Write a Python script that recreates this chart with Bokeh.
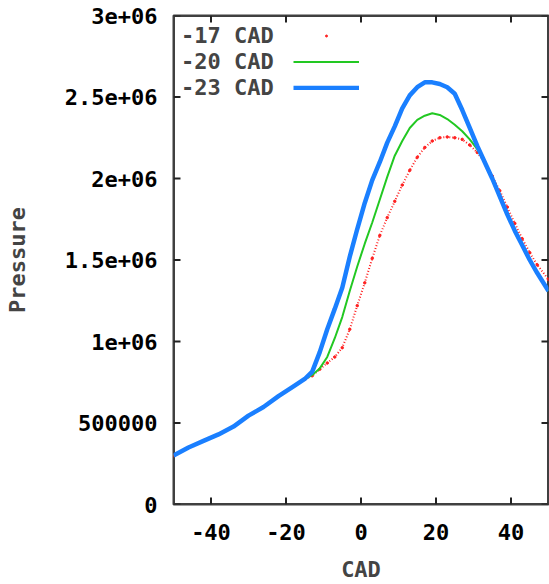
from bokeh.plotting import figure
from bokeh.models import Range1d, LinearAxis, Legend, LegendItem, FixedTicker
from bokeh.embed import file_html
from bokeh.resources import INLINE

# ---- data ----
cad_23 = [-50, -46, -42, -38, -34, -30, -26, -22, -18, -15, -13, -11, -9, -7, -5, -3, -1,
          1, 3, 5, 7, 9, 11, 13, 15, 17, 19, 21, 23, 25, 27, 29, 31, 33, 35, 37, 39, 41, 43, 45, 47, 50]
p_23 = [300000, 350000, 390000, 430000, 478000, 545000, 598000, 665000, 725000,
        770000, 815000, 935000, 1075000, 1200000, 1330000, 1520000, 1690000,
        1850000, 1990000, 2100000, 2220000, 2320000, 2430000, 2510000, 2560000, 2590000,
        2590000, 2580000, 2560000, 2520000, 2420000, 2310000, 2200000, 2100000, 2000000,
        1890000, 1780000, 1680000, 1590000, 1500000, 1420000, 1310000]

cad_20 = [-50, -46, -42, -38, -34, -30, -26, -22, -18, -15, -13, -11, -9, -7, -5, -3, -1,
          1, 3, 5, 7, 9, 11, 13, 15, 17, 19, 21, 23, 25, 27, 29, 31, 33, 35, 37, 39, 41, 43, 45, 47, 50]
p_20 = [300000, 350000, 390000, 430000, 478000, 545000, 598000, 665000, 725000,
        768000, 795000, 835000, 905000, 1020000, 1150000, 1310000, 1460000,
        1600000, 1730000, 1870000, 2010000, 2140000, 2230000, 2310000, 2360000, 2385000,
        2400000, 2390000, 2365000, 2330000, 2290000, 2240000, 2180000, 2100000, 2000000,
        1890000, 1780000, 1680000, 1590000, 1500000, 1420000, 1310000]

cad_17 = [-50, -46, -42, -38, -34, -30, -26, -22, -18, -15, -13, -11, -9, -7, -5, -3, -1,
          1, 3, 5, 7, 9, 11, 13, 15, 17, 19, 21, 23, 25, 27, 29, 31, 33, 35, 37, 39, 41, 43, 45, 47, 50]
p_17 = [300000, 350000, 390000, 430000, 478000, 545000, 598000, 665000, 725000,
        768000, 790000, 830000, 868000, 905000, 962000, 1075000, 1220000,
        1360000, 1510000, 1650000, 1760000, 1860000, 1960000, 2050000, 2130000, 2190000,
        2230000, 2250000, 2255000, 2250000, 2240000, 2205000, 2160000, 2100000, 2015000,
        1925000, 1825000, 1725000, 1630000, 1545000, 1470000, 1380000]

series_labels = ["-17 CAD", "-20 CAD", "-23 CAD"]

x_ticks = [-40, -20, 0, 20, 40]
x_tick_labels = ["-40", "-20", "0", "20", "40"]
y_ticks = [0, 500000, 1000000, 1500000, 2000000, 2500000, 3000000]
y_tick_labels = ["0", "500000", "1e+06", "1.5e+06", "2e+06", "2.5e+06", "3e+06"]

FONT = "DejaVu Sans Mono"
FS = "22px"
FRAME = "#404040"

W, H = 549, 584
BL, BR, BT, BB = 173, 1, 15, 80
X0, X1 = -50, 50
Y0, Y1 = 0, 3000000

p = figure(width=W, height=H, output_backend="svg", toolbar_location=None,
           x_range=Range1d(X0, X1), y_range=Range1d(Y0, Y1),
           x_axis_location=None, y_axis_location=None,
           min_border_left=BL, min_border_right=BR, min_border_top=BT, min_border_bottom=BB)
p.background_fill_color = "white"
p.border_fill_color = "white"
p.outline_line_color = FRAME
p.outline_line_width = 2
p.xgrid.visible = False
p.ygrid.visible = False

# labeled axes (labels only)
def label_axis(ticks, labels, title, standoff, title_standoff):
    ax = LinearAxis(ticker=FixedTicker(ticks=ticks))
    ax.axis_line_color = None
    ax.major_tick_line_color = None
    ax.minor_tick_line_color = None
    ax.major_tick_out = 0
    ax.major_tick_in = 0
    ax.major_label_overrides = {t: l for t, l in zip(ticks, labels)}
    ax.major_label_text_font = FONT
    ax.major_label_text_font_style = "bold"
    ax.major_label_text_font_size = FS
    ax.major_label_text_color = "black"
    ax.major_label_standoff = standoff
    ax.axis_label = title
    ax.axis_label_standoff = title_standoff
    ax.axis_label_text_font = FONT
    ax.axis_label_text_font_style = "bold"
    ax.axis_label_text_font_size = FS
    return ax

p.add_layout(label_axis(y_ticks, y_tick_labels, "Pressure", 16, 32), "left")
p.add_layout(label_axis(x_ticks, x_tick_labels, "CAD", 19, 14), "below")

# frame border and inward (mirrored) ticks, derived from the ranges and tick lists
frame_w = W - BL - BR
frame_h = H - BT - BB
tick_px = 7
tx = tick_px * (X1 - X0) / frame_w
ty = tick_px * (Y1 - Y0) / frame_h

p.segment(x0=[X0, X1, X0, X0], y0=[Y0, Y0, Y0, Y1], x1=[X0, X1, X1, X1], y1=[Y1, Y1, Y0, Y1],
          line_color=FRAME, line_width=3)
p.segment(x0=x_ticks, y0=[Y0] * len(x_ticks), x1=x_ticks, y1=[Y0 + ty] * len(x_ticks),
          line_color="#222222", line_width=2)
p.segment(x0=x_ticks, y0=[Y1] * len(x_ticks), x1=x_ticks, y1=[Y1 - ty] * len(x_ticks),
          line_color="#222222", line_width=2)
p.segment(x0=[X0] * len(y_ticks), y0=y_ticks, x1=[X0 + tx] * len(y_ticks), y1=y_ticks,
          line_color="#222222", line_width=2)
p.segment(x0=[X1] * len(y_ticks), y0=y_ticks, x1=[X1 - tx] * len(y_ticks), y1=y_ticks,
          line_color="#222222", line_width=2)

RED = "#ff2020"
GREEN = "#22c822"
BLUE = "#1a7fff"

r_red = p.line(cad_17, p_17, line_color=RED, line_width=2, line_dash="1 2")
r_red_pts = p.scatter(cad_17, p_17, size=2.5, color=RED, marker="circle")
r_green = p.line(cad_20, p_20, line_color=GREEN, line_width=2)
r_blue = p.line(cad_23, p_23, line_color=BLUE, line_width=4.5)

common = dict(border_line_color=None, background_fill_alpha=0, padding=0, margin=0,
              spacing=0, label_height=26,
              label_text_font=FONT, label_text_font_style="bold", label_text_font_size=FS)

leg_text = Legend(items=[LegendItem(label=series_labels[0], renderers=[r_green]),
                         LegendItem(label=series_labels[1], renderers=[r_green]),
                         LegendItem(label=series_labels[2], renderers=[r_green])],
                  location=(8, 404), glyph_width=0, glyph_height=26, label_standoff=0, **common)
leg_glyph = Legend(items=[LegendItem(label=" ", renderers=[r_red_pts]),
                          LegendItem(label=" ", renderers=[r_green]),
                          LegendItem(label=" ", renderers=[r_blue])],
                   location=(120, 404), glyph_width=66, glyph_height=5, label_standoff=0, **common)
p.add_layout(leg_text)
p.add_layout(leg_glyph)

open("out.html", "w").write(file_html(p, INLINE))
